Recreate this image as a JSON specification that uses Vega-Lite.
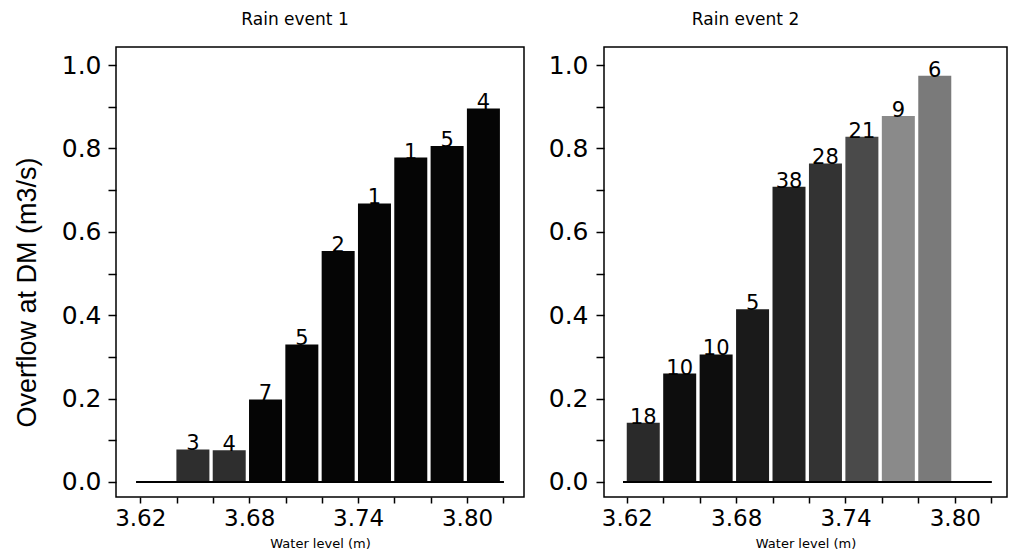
{
  "$schema": "https://vega.github.io/schema/vega-lite/v6.json",
  "padding": {"left": 12, "top": 10, "right": 0, "bottom": 0},
  "background": "white",
  "config": {
    "view": {"stroke": "black", "strokeWidth": 1.5},
    "axis": {"grid": false, "domain": false, "tickColor": "black", "tickWidth": 1.5, "labelColor": "black", "titleColor": "black", "labelFont": "DejaVu Sans", "titleFont": "DejaVu Sans", "titleFontWeight": "normal"},
    "title": {"font": "DejaVu Sans", "fontSize": 17, "fontWeight": "normal", "color": "black"},
    "concat": {"spacing": 22}
  },
  "hconcat": [
    {
      "title": {"text": "Rain event 1", "dx": -25, "offset": 18},
      "width": 408,
      "height": 450,
      "data": {"values": [
        {"level": 3.649, "overflow": 0.078, "events": 3, "tone": 0.18},
        {"level": 3.669, "overflow": 0.076, "events": 4, "tone": 0.18},
        {"level": 3.689, "overflow": 0.198, "events": 7, "tone": 0.02},
        {"level": 3.709, "overflow": 0.330, "events": 5, "tone": 0.02},
        {"level": 3.729, "overflow": 0.554, "events": 2, "tone": 0.02},
        {"level": 3.749, "overflow": 0.668, "events": 1, "tone": 0.02},
        {"level": 3.769, "overflow": 0.778, "events": 1, "tone": 0.02},
        {"level": 3.789, "overflow": 0.806, "events": 5, "tone": 0.02},
        {"level": 3.809, "overflow": 0.896, "events": 4, "tone": 0.02}
      ]},
      "layer": [
        {
          "mark": {"type": "bar", "size": 33},
          "encoding": {
            "x": {"field": "level", "type": "quantitative", "scale": {"domain": [3.6094, 3.8286], "nice": false, "zero": false},
              "axis": {"title": "Water level (m)", "values": [3.62, 3.64, 3.66, 3.68, 3.70, 3.72, 3.74, 3.76, 3.78, 3.80, 3.82], "labelExpr": "(round(datum.value*100) - 362) % 6 == 0 ? format(datum.value, '.2f') : ''", "tickSize": 6, "labelPadding": 4, "labelFontSize": 23, "titleFontSize": 13, "titlePadding": 7}},
            "y": {"field": "overflow", "type": "quantitative", "scale": {"domain": [-0.036, 1.0432], "nice": false, "zero": false},
              "axis": {"title": "Overflow at DM (m3/s)", "values": [0, 0.1, 0.2, 0.3, 0.4, 0.5, 0.6, 0.7, 0.8, 0.9, 1.0], "labelExpr": "round(datum.value*10) % 2 == 0 ? format(datum.value, '.1f') : ''", "tickSize": 8, "labelPadding": 7, "labelFontSize": 25, "titleFont": "Liberation Sans", "titleFontSize": 27, "titlePadding": 20, "titleY": 245}},
            "color": {"field": "tone", "type": "quantitative", "scale": {"domain": [0, 1], "range": ["#000000", "#ffffff"], "interpolate": "rgb"}, "legend": null}
          }
        },
        {
          "mark": {"type": "rule", "color": "black", "strokeWidth": 1.5},
          "encoding": {"x": {"datum": 3.618}, "x2": {"datum": 3.82}, "y": {"datum": 0}}
        },
        {
          "mark": {"type": "text", "font": "DejaVu Sans", "fontSize": 21, "baseline": "alphabetic", "dy": 1, "color": "black"},
          "encoding": {
            "x": {"field": "level", "type": "quantitative"},
            "y": {"field": "overflow", "type": "quantitative"},
            "text": {"field": "events", "type": "nominal"}
          }
        }
      ]
    },
    {
      "title": {"text": "Rain event 2", "dx": -60, "offset": 18},
      "width": 403,
      "height": 450,
      "data": {"values": [
        {"level": 3.629, "overflow": 0.142, "events": 18, "tone": 0.165},
        {"level": 3.649, "overflow": 0.260, "events": 10, "tone": 0.05},
        {"level": 3.669, "overflow": 0.306, "events": 10, "tone": 0.05},
        {"level": 3.689, "overflow": 0.414, "events": 5, "tone": 0.10},
        {"level": 3.709, "overflow": 0.708, "events": 38, "tone": 0.13},
        {"level": 3.729, "overflow": 0.764, "events": 28, "tone": 0.20},
        {"level": 3.749, "overflow": 0.828, "events": 21, "tone": 0.29},
        {"level": 3.769, "overflow": 0.878, "events": 9, "tone": 0.54},
        {"level": 3.789, "overflow": 0.974, "events": 6, "tone": 0.48}
      ]},
      "layer": [
        {
          "mark": {"type": "bar", "size": 33},
          "encoding": {
            "x": {"field": "level", "type": "quantitative", "scale": {"domain": [3.6102, 3.8259], "nice": false, "zero": false},
              "axis": {"title": "Water level (m)", "values": [3.62, 3.64, 3.66, 3.68, 3.70, 3.72, 3.74, 3.76, 3.78, 3.80, 3.82], "labelExpr": "(round(datum.value*100) - 362) % 6 == 0 ? format(datum.value, '.2f') : ''", "tickSize": 6, "labelPadding": 4, "labelFontSize": 23, "titleFontSize": 13, "titlePadding": 7}},
            "y": {"field": "overflow", "type": "quantitative", "scale": {"domain": [-0.036, 1.0432], "nice": false, "zero": false},
              "axis": {"title": null, "values": [0, 0.1, 0.2, 0.3, 0.4, 0.5, 0.6, 0.7, 0.8, 0.9, 1.0], "labelExpr": "round(datum.value*10) % 2 == 0 ? format(datum.value, '.1f') : ''", "tickSize": 8, "labelPadding": 8, "labelFontSize": 25}},
            "color": {"field": "tone", "type": "quantitative", "scale": {"domain": [0, 1], "range": ["#000000", "#ffffff"], "interpolate": "rgb"}, "legend": null}
          }
        },
        {
          "mark": {"type": "rule", "color": "black", "strokeWidth": 1.5},
          "encoding": {"x": {"datum": 3.618}, "x2": {"datum": 3.82}, "y": {"datum": 0}}
        },
        {
          "mark": {"type": "text", "font": "DejaVu Sans", "fontSize": 21, "baseline": "alphabetic", "dy": 1, "color": "black"},
          "encoding": {
            "x": {"field": "level", "type": "quantitative"},
            "y": {"field": "overflow", "type": "quantitative"},
            "text": {"field": "events", "type": "nominal"}
          }
        }
      ]
    }
  ]
}
